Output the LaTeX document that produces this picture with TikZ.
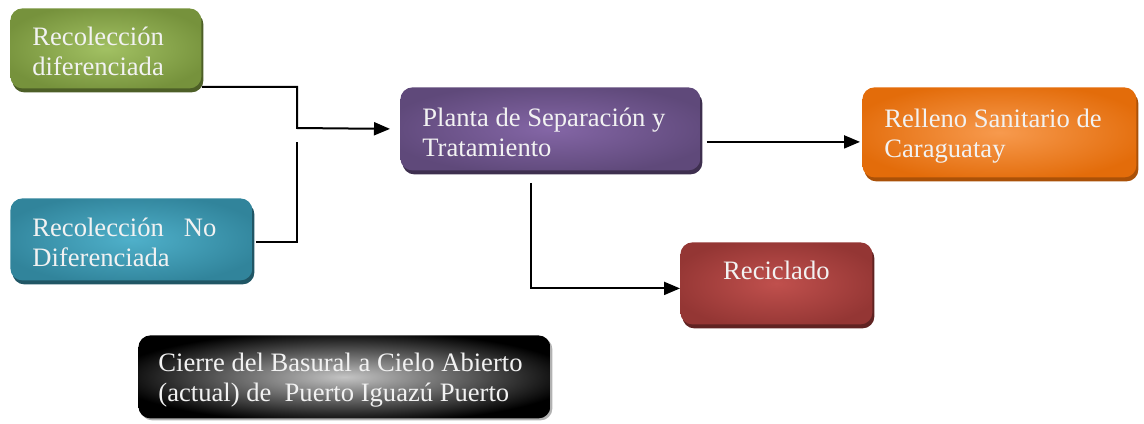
\documentclass[tikz,border=0pt]{standalone}
\usepackage{fontspec}
\setmainfont{Liberation Serif}
\usepackage{xcolor}
\usepackage{tikz}
\usetikzlibrary{calc}
\usetikzlibrary{arrows.meta}
\usetikzlibrary{shadows}
\usetikzlibrary{positioning}
\tikzset{>=latex}
\definecolor{txtwhite}{HTML}{F2F2F2}
\definecolor{grnout}{HTML}{76923C}
\definecolor{grnin}{HTML}{A2C163}
\definecolor{tealout}{HTML}{31849B}
\definecolor{tealin}{HTML}{4FB0CA}
\definecolor{purout}{HTML}{5F497A}
\definecolor{purin}{HTML}{8466A6}
\definecolor{orgout}{HTML}{E36C0A}
\definecolor{orgin}{HTML}{F79A4E}
\definecolor{redout}{HTML}{943634}
\definecolor{redin}{HTML}{C0504D}
\definecolor{blkin}{HTML}{C4C4C4}
\colorlet{cin}{white}
\colorlet{cout}{black}
\pgfdeclareradialshading[cin,cout]{softglow}{\pgfpoint{0bp}{0bp}}{color(0bp)=(cin); color(28bp)=(cout); color(100bp)=(cout)}
\tikzset{glow/.style 2 args={/utils/exec={\colorlet{cin}{#1}\colorlet{cout}{#2}}, shading=softglow}}
\tikzstyle{box} = [rectangle, rounded corners=6pt, anchor=north west, inner xsep=11pt, inner ysep=0pt, align=flush left, text=txtwhite, font=\fontsize{13.3}{15}\selectfont, execute at begin node={\rule{0pt}{12.5pt}}]
\tikzstyle{conn} = [-{Triangle[length=8pt,width=6.5pt]}, line width=1pt]

\begin{document}
\begin{tikzpicture}[x=0.5pt, y=-0.5pt]
\useasboundingbox (0,0) rectangle (1144,423);
%\draw[help lines] (0,0) rectangle (1144,423);
\node [box, glow={grnin}{grnout}, general shadow={fill=grnout!65!black, shadow xshift=1pt, shadow yshift=-2pt}, minimum width=95.5pt, minimum height=40pt, text width=73.5pt] (green) at (10,8) {Recolección diferenciada};
\node [box, glow={tealin}{tealout}, general shadow={fill=tealout!65!black, shadow xshift=1pt, shadow yshift=-2pt}, minimum width=121pt, minimum height=41pt, text width=99pt] (teal) at (10,198) {Recolección\ \ \ No Diferenciada};
\node [box, glow={purin}{purout}, general shadow={fill=purout!65!black, shadow xshift=1pt, shadow yshift=-2pt}, minimum width=150pt, minimum height=41.5pt, text width=128pt] (purple) at (400,87) {Planta de Separación y Tratamiento};
\node [box, glow={orgin}{orgout}, general shadow={fill=orgout!75!black, shadow xshift=1pt, shadow yshift=-2pt}, minimum width=137pt, minimum height=45pt, text width=115pt] (orange) at (862,87) {Relleno Sanitario de Caraguatay};
\node [box, glow={redin}{redout}, general shadow={fill=redout!65!black, shadow xshift=1pt, shadow yshift=-2pt}, minimum width=96pt, minimum height=41pt, text width=74pt, align=center, text height=9pt, text depth=13pt] (red) at (680,242) {Reciclado};
\node [box, glow={blkin}{black}, general shadow={fill=gray!60, shadow xshift=1pt, shadow yshift=-1pt}, minimum width=206pt, minimum height=41.5pt, inner xsep=10pt, text width=186pt] (black) at (138,335) {Cierre del Basural a Cielo Abierto (actual) de~ Puerto Iguazú Puerto};

\coordinate (jn) at (297,128);
\coordinate (jt) at (297,142);
\draw [conn] ([yshift=1pt]green.south east) -| (jn) -- ([xshift=-5pt]purple.west);
\draw [line width=1pt] ([xshift=1.5pt,yshift=-1.5pt]teal.east) -| (jt);
\draw [conn] ([xshift=3pt,yshift=-6.5pt]purple.east) coordinate (po) -- ([xshift=-1pt]orange.west |- po);
\draw [conn] ([xshift=-9.5pt,yshift=-6pt]purple.south) |- ([yshift=-2.5pt]red.west);
\end{tikzpicture}
\end{document}
